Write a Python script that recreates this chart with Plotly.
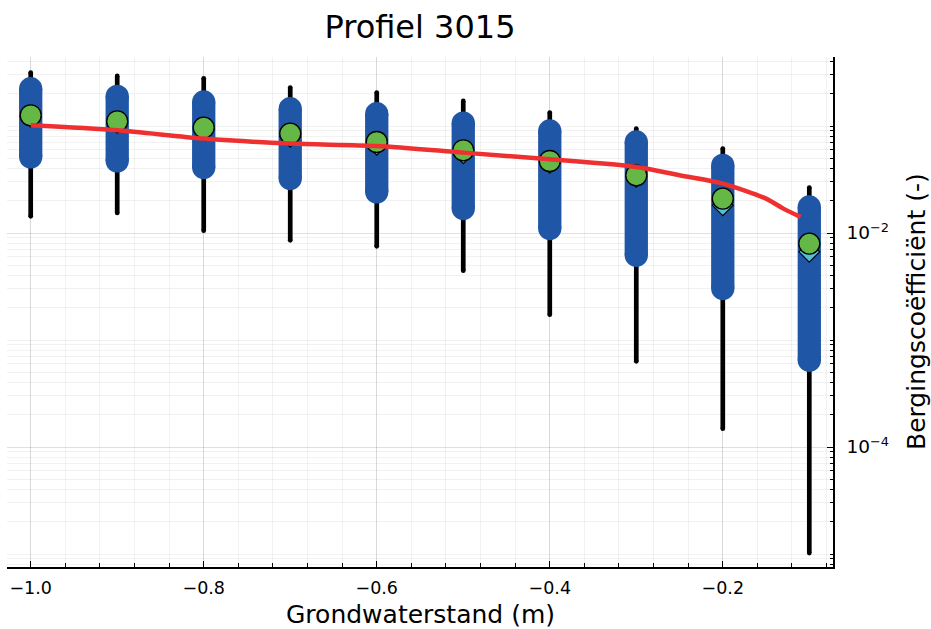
import plotly.graph_objects as go

# ---- data ----
x_levels = [-1.0, -0.9, -0.8, -0.7, -0.6, -0.5, -0.4, -0.3, -0.2, -0.1]
whisker_hi = [0.3155, 0.2938, 0.2791, 0.2285, 0.2051, 0.1716, 0.1334, 0.09456, 0.0615, 0.02657]
whisker_lo = [0.01433, 0.01538, 0.01051, 0.008548, 0.007509, 0.004443, 0.001723, 0.0006322, 0.0001483, 0.00001021]
box_hi = [0.2232, 0.1895, 0.1676, 0.1451, 0.1303, 0.1066, 0.08981, 0.07088, 0.04293, 0.0175]
box_lo = [0.05143, 0.04719, 0.04086, 0.03224, 0.02422, 0.0169, 0.011, 0.006186, 0.003022, 0.0006459]
mean_vals = [0.1259, 0.1106, 0.0966, 0.08492, 0.07088, 0.05928, 0.04709, 0.03462, 0.02097, 0.007962]
median_vals = [0.1219, 0.1071, 0.09316, 0.07926, 0.06672, 0.05556, 0.0453, 0.03351, 0.01815, 0.006673]
fit_x = [-1.0, -0.9, -0.8, -0.7, -0.6, -0.5, -0.4, -0.3, -0.25, -0.2, -0.15, -0.13, -0.11]
fit_y = [0.1015, 0.09116, 0.07624, 0.06848, 0.06503, 0.05639, 0.04885, 0.04139, 0.03462,
         0.02895, 0.02097, 0.0169, 0.01411]

title_text = "Profiel 3015"
x_title = "Grondwaterstand (m)"
y_title = "Bergingscoëfficiënt (-)"
x_tickvals = [-1.0, -0.8, -0.6, -0.4, -0.2]
x_ticktext = ["−1.0", "−0.8", "−0.6", "−0.4", "−0.2"]
y_tickvals = [1e-4, 1e-2]
y_ticktext = ["10<sup>−4</sup>", "10<sup>−2</sup>"]

# ---- styles ----
FONT = "DejaVu Sans"
BLUE = "#1f56a5"
GREEN = "#66b846"
CYAN = "#52bfd5"
RED = "#ee3030"
BAR_W = 23.3
WH_W = 4.7


def segments(xs, lo, hi):
    sx, sy = [], []
    for xv, a, b in zip(xs, lo, hi):
        sx += [xv, xv, None]
        sy += [a, b, None]
    return sx, sy


fig = go.Figure()

# whiskers
wx, wy = segments(x_levels, whisker_lo, whisker_hi)
fig.add_trace(go.Scatter(x=wx, y=wy, mode="lines", line=dict(color="black", width=WH_W),
                         hoverinfo="skip", showlegend=False))
fig.add_trace(go.Scatter(x=x_levels * 2, y=whisker_lo + whisker_hi, mode="markers",
                         marker=dict(color="black", size=WH_W, line=dict(width=0)),
                         hoverinfo="skip", showlegend=False))

# blue bars with rounded ends
bx, by = segments(x_levels, box_lo, box_hi)
fig.add_trace(go.Scatter(x=bx, y=by, mode="lines", line=dict(color=BLUE, width=BAR_W),
                         hoverinfo="skip", showlegend=False))
fig.add_trace(go.Scatter(x=x_levels * 2, y=box_lo + box_hi, mode="markers",
                         marker=dict(color=BLUE, size=BAR_W, line=dict(width=0)),
                         hoverinfo="skip", showlegend=False))

# median diamonds
fig.add_trace(go.Scatter(x=x_levels, y=median_vals, mode="markers",
                         marker=dict(symbol="diamond", color=CYAN, size=16,
                                     line=dict(color="black", width=1.2)),
                         showlegend=False))
# mean circles
fig.add_trace(go.Scatter(x=x_levels, y=mean_vals, mode="markers",
                         marker=dict(symbol="circle", color=GREEN, size=21,
                                     line=dict(color="black", width=1.3)),
                         showlegend=False))
# red fit line
fig.add_trace(go.Scatter(x=fit_x, y=fit_y, mode="lines",
                         line=dict(color=RED, width=4.5, shape="spline", smoothing=0.8),
                         showlegend=False))

minor_y = [k * 10.0 ** n for n in range(-6, 1) for k in range(1, 10)
           if not (k == 1 and n in (-4, -2))]

fig.update_layout(
    width=931, height=629,
    margin=dict(l=7, r=98, t=57, b=62),
    paper_bgcolor="white", plot_bgcolor="white",
    font=dict(family=FONT, color="black"),
    title=dict(text=title_text, x=0.5, xref="paper", y=1 - 27 / 629, yanchor="middle",
               font=dict(family=FONT, size=32, color="black")),
    xaxis=dict(
        range=[-1.0274, -0.0726], tickmode="array",
        tickvals=x_tickvals, ticktext=x_ticktext,
        ticks="inside", ticklen=6, tickwidth=1.2, tickcolor="black",
        ticklabelstandoff=4,
        showline=True, linecolor="black", linewidth=1.5, mirror=False,
        showgrid=True, gridcolor="rgba(0,0,0,0.10)", gridwidth=1,
        zeroline=False,
        tickfont=dict(family=FONT, size=17.5, color="black"),
        minor=dict(dtick=0.04, tick0=0, ticks="inside", ticklen=4, tickwidth=1,
                   tickcolor="black", showgrid=True, gridcolor="rgba(0,0,0,0.05)", gridwidth=1),
    ),
    yaxis=dict(
        type="log", side="right", range=[-5.1215, -0.3551],
        tickmode="array", tickvals=y_tickvals, ticktext=y_ticktext,
        ticks="inside", ticklen=6, tickwidth=1.2, tickcolor="black",
        ticklabelstandoff=8,
        showline=True, linecolor="black", linewidth=1.5, mirror=False,
        showgrid=True, gridcolor="rgba(0,0,0,0.12)", gridwidth=1,
        zeroline=False,
        tickfont=dict(family=FONT, size=18.5, color="black"),
        minor=dict(tickmode="array", tickvals=minor_y, ticks="inside", ticklen=3,
                   tickwidth=1, tickcolor="black", showgrid=True,
                   gridcolor="rgba(0,0,0,0.05)", gridwidth=1),
    ),
    annotations=[
        dict(text=x_title, xref="paper", yref="paper", x=0.5, y=(567 - 614.5) / 510,
             xanchor="center", yanchor="middle", showarrow=False,
             font=dict(family=FONT, size=25, color="black")),
        dict(text=y_title, xref="paper", yref="paper", x=(916 - 7) / 826, y=0.5,
             xanchor="center", yanchor="middle", textangle=-90, showarrow=False,
             font=dict(family=FONT, size=25, color="black")),
    ],
)

fig.write_html("out.html", config={"displayModeBar": False},
               post_script="document.body.style.margin='0px';document.body.style.overflow='hidden';")
